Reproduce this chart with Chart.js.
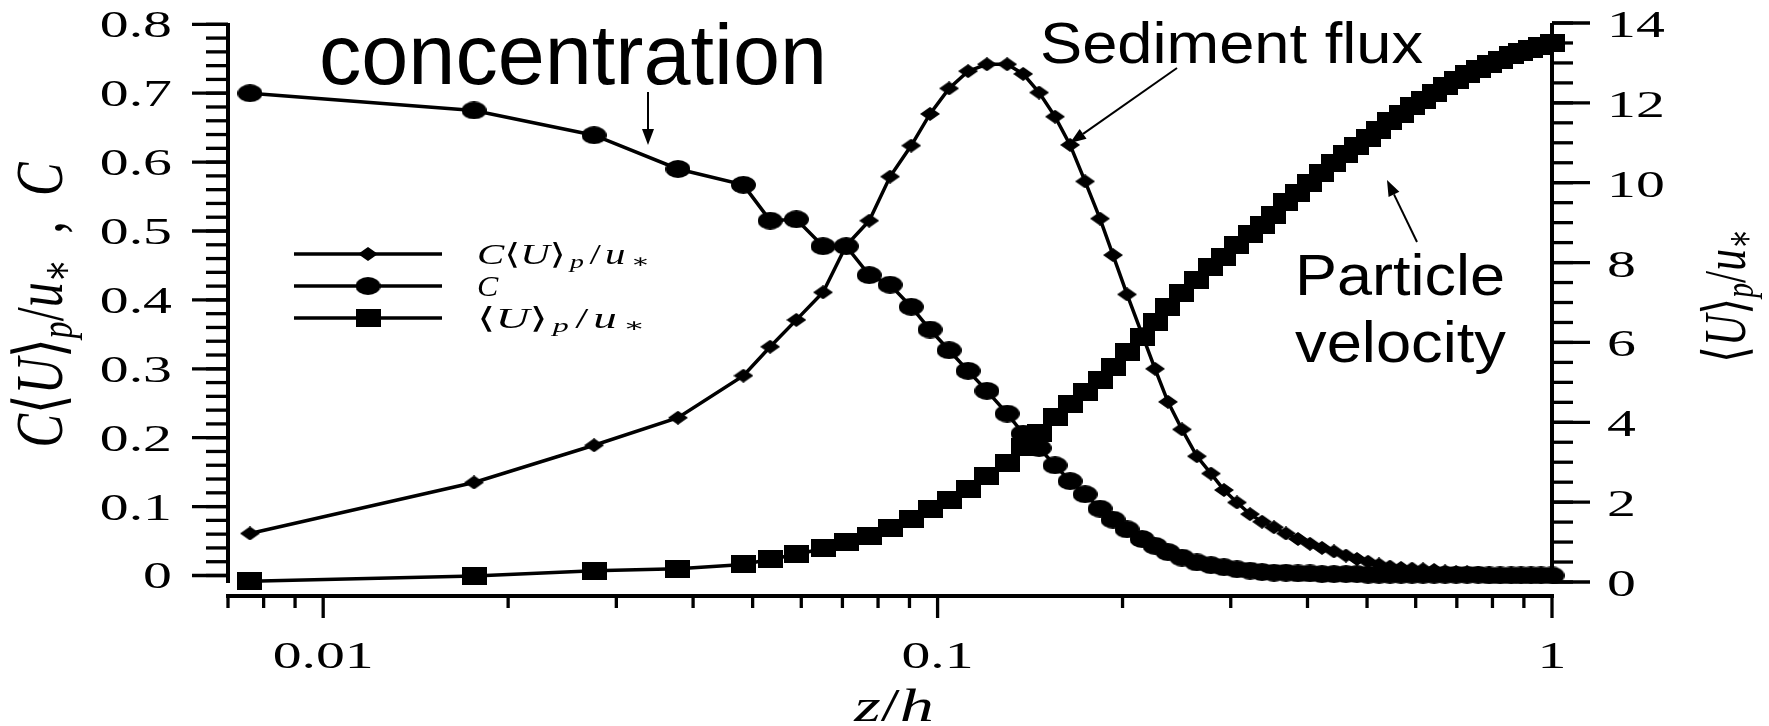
<!DOCTYPE html>
<html>
<head>
<meta charset="utf-8">
<title>Sediment flux profile</title>
<script src="https://cdn.jsdelivr.net/npm/chart.js@4.4.1/dist/chart.umd.min.js"></script>
<style>
  html, body { margin: 0; padding: 0; background: #fff; }
  canvas { display: block; }
</style>
</head>
<body>
<canvas id="profileChart" width="1769" height="726"></canvas>
<script>
// z/h positions of the samples (shared by all three profiles)
const zPos = [
  0.0076, 0.0176, 0.0276, 0.0378, 0.0483, 0.0534, 0.0589, 0.0651, 0.0710, 0.0774,
  0.0837, 0.0906, 0.0972, 0.1044, 0.1121, 0.1203, 0.1298, 0.1378, 0.1463, 0.1553,
  0.1643, 0.1738, 0.1838, 0.1930, 0.2034, 0.2152, 0.2259, 0.2371, 0.2499, 0.2643,
  0.2786, 0.2925, 0.3071, 0.3225, 0.3373, 0.3528, 0.3690, 0.3860, 0.4037, 0.4223,
  0.4417, 0.4620, 0.4815, 0.5018, 0.5229, 0.5449, 0.5679, 0.5918, 0.6168, 0.6428,
  0.6699, 0.6981, 0.7275, 0.7582, 0.7901, 0.8234, 0.8581, 0.8903, 0.9243, 0.9596, 1.0
];

// C<U>p/u* (sediment flux, left axis)
const fluxValues = [
  0.061, 0.135, 0.189, 0.229, 0.290, 0.332, 0.371, 0.411, 0.479, 0.515,
  0.579, 0.624, 0.670, 0.707, 0.732, 0.742, 0.742, 0.728, 0.701, 0.666,
  0.625, 0.572, 0.518, 0.465, 0.408, 0.350, 0.300, 0.252, 0.212, 0.173,
  0.148, 0.124, 0.106, 0.089, 0.078, 0.070, 0.061, 0.053, 0.046, 0.040,
  0.035, 0.029, 0.024, 0.020, 0.016, 0.013, 0.011, 0.010, 0.009, 0.008,
  0.006, 0.005, 0.0045, 0.004, 0.003, 0.0025, 0.002, 0.002, 0.0015, 0.001, 0.001
];

// C (concentration, left axis)
const concValues = [
  0.700, 0.675, 0.639, 0.590, 0.567, 0.515, 0.517, 0.478, 0.478, 0.436,
  0.422, 0.390, 0.357, 0.327, 0.297, 0.268, 0.235, 0.206, 0.185, 0.160,
  0.137, 0.118, 0.097, 0.081, 0.067, 0.053, 0.043, 0.034, 0.026, 0.019,
  0.015, 0.012, 0.009, 0.007, 0.005, 0.004, 0.004, 0.003, 0.003, 0.002,
  0.002, 0.002, 0.002, 0.001, 0.001, 0.001, 0.001, 0.001, 0.001, 0.001,
  0.001, 0.001, 0.001, 0.001, 0.000, 0.000, 0.000, 0.000, 0.000, 0.000, 0.000
];

// <U>p/u* (particle velocity, right axis)
const velValues = [
  0.02, 0.15, 0.28, 0.33, 0.44, 0.57, 0.69, 0.84, 1.01, 1.16,
  1.36, 1.57, 1.82, 2.05, 2.32, 2.65, 2.97, 3.37, 3.72, 4.14,
  4.45, 4.75, 5.06, 5.38, 5.76, 6.14, 6.51, 6.89, 7.24, 7.56,
  7.90, 8.15, 8.45, 8.72, 8.95, 9.20, 9.52, 9.75, 10.00, 10.25,
  10.50, 10.72, 10.93, 11.12, 11.32, 11.55, 11.72, 11.92, 12.08, 12.25,
  12.42, 12.58, 12.72, 12.85, 12.97, 13.08, 13.20, 13.28, 13.35, 13.42, 13.50
];

// Tick labels
const xMajorTicks = [0.01, 0.1, 1];
const xMinorTicks = [0.007, 0.008, 0.009, 0.02, 0.03, 0.04, 0.05, 0.06, 0.07, 0.08, 0.09,
                     0.2, 0.3, 0.4, 0.5, 0.6, 0.7, 0.8, 0.9];
const xTickLabels = ['0.01', '0.1', '1'];
const leftTicks = [0, 0.1, 0.2, 0.3, 0.4, 0.5, 0.6, 0.7, 0.8];
const leftTickLabels = ['0', '0.1', '0.2', '0.3', '0.4', '0.5', '0.6', '0.7', '0.8'];
const rightTicks = [0, 2, 4, 6, 8, 10, 12, 14];
const rightTickLabels = ['0', '2', '4', '6', '8', '10', '12', '14'];

const SERIF = '"Liberation Serif", "DejaVu Serif", serif';
const SANS = '"Liberation Sans", Arial, sans-serif';

// Math-like labels: pieces of text, italic / subscript flags
const fluxLabel = [
  { t: 'C', it: true }, { t: '⟨' }, { t: 'U', it: true }, { t: '⟩', gap: 3 },
  { t: 'p', it: true, sub: true, gap: 4 }, { t: '/', gap: 3 }, { t: 'u', it: true, gap: 4 }, { t: '∗', sub: true }
];
const concLabel = [{ t: 'C', it: true }];
const velLabel = [
  { t: '⟨' }, { t: 'U', it: true }, { t: '⟩', gap: 3 },
  { t: 'p', it: true, sub: true, gap: 4 }, { t: '/', gap: 3 }, { t: 'u', it: true, gap: 4 }, { t: '∗', sub: true }
];
const leftTitle = [
  { t: 'C', it: true }, { t: '⟨' }, { t: 'U', it: true }, { t: '⟩' },
  { t: 'p', it: true, sub: true }, { t: '/' }, { t: 'u', it: true }, { t: '∗', sub: true },
  { t: '  ,  ' }, { t: 'C', it: true }
];
const rightTitle = [
  { t: '⟨' }, { t: 'U', it: true }, { t: '⟩' },
  { t: 'p', it: true, sub: true }, { t: '/' }, { t: 'u', it: true }, { t: '∗', sub: true }
];
const xTitle = [{ t: 'z', it: true }, { t: '/' }, { t: 'h', it: true }];

// Marker images (the source figure is stretched sideways, so markers are too)
function makeMarker(w, h, kind) {
  const c = document.createElement('canvas');
  c.width = w;
  c.height = h;
  const g = c.getContext('2d');
  g.fillStyle = '#000';
  g.beginPath();
  if (kind === 'circle') {
    g.ellipse(w / 2, h / 2, w / 2, h / 2, 0, 0, Math.PI * 2);
  } else if (kind === 'diamond') {
    g.moveTo(w / 2, 0);
    g.lineTo(w, h / 2);
    g.lineTo(w / 2, h);
    g.lineTo(0, h / 2);
    g.closePath();
  } else {
    g.rect(0, 0, w, h);
  }
  g.fill();
  return c;
}

const diamondImg = makeMarker(20, 14, 'diamond');
const circleImg = makeMarker(25, 18, 'circle');
const squareImg = makeMarker(25, 18, 'square');

// Draw a row of text pieces, optionally rotated / stretched
function drawMath(ctx, segs, size, x, y, o = {}) {
  ctx.save();
  ctx.translate(x, y);
  if (o.rotate) ctx.rotate(-Math.PI / 2);
  let w = 0;
  const parts = segs.map(s => {
    const fs = s.sub ? size * 0.68 : size;
    const font = (s.it ? 'italic ' : '') + fs + 'px ' + (s.sans ? SANS : SERIF);
    ctx.font = font;
    const p = { t: s.t, font: font, x: w, dy: s.sub ? size * 0.14 : 0 };
    w += ctx.measureText(s.t).width + (s.gap || 0);
    return p;
  });
  const sx = o.width ? o.width / w : (o.sx || 1);
  ctx.scale(sx, o.sy || 1);
  const x0 = o.align === 'center' ? -w / 2 : (o.align === 'right' ? -w : 0);
  ctx.textAlign = 'left';
  ctx.textBaseline = 'alphabetic';
  ctx.fillStyle = '#000';
  parts.forEach(p => {
    ctx.font = p.font;
    ctx.fillText(p.t, x0 + p.x, p.dy);
  });
  ctx.restore();
}

function strokeLine(ctx, x1, y1, x2, y2) {
  ctx.beginPath();
  ctx.moveTo(x1, y1);
  ctx.lineTo(x2, y2);
  ctx.stroke();
}

function drawArrow(ctx, x1, y1, x2, y2) {
  const ang = Math.atan2(y2 - y1, x2 - x1);
  const len = 16, half = 6;
  const bx = x2 - Math.cos(ang) * len, by = y2 - Math.sin(ang) * len;
  ctx.lineWidth = 2;
  strokeLine(ctx, x1, y1, bx, by);
  ctx.beginPath();
  ctx.moveTo(x2, y2);
  ctx.lineTo(bx + Math.sin(ang) * half, by - Math.cos(ang) * half);
  ctx.lineTo(bx - Math.sin(ang) * half, by + Math.cos(ang) * half);
  ctx.closePath();
  ctx.fill();
}

// Axes, ticks, titles, legend and callouts in the style of the paper figure
const paperAxes = {
  id: 'paperAxes',
  afterDatasetsDraw(chart) {
    const { ctx, chartArea: a, scales } = chart;
    const sx = scales.x, yl = scales.yL, yr = scales.yR;
    const xAxisY = a.bottom + 13;

    ctx.save();
    ctx.strokeStyle = '#000';
    ctx.fillStyle = '#000';
    ctx.lineCap = 'butt';

    // axis lines
    ctx.lineWidth = 4;
    strokeLine(ctx, a.left, a.top, a.left, a.bottom);
    strokeLine(ctx, a.right, a.top, a.right, a.bottom);
    strokeLine(ctx, a.left - 2, xAxisY, a.right + 2, xAxisY);

    // left ticks
    ctx.lineWidth = 3.3;
    for (let v = 0; v <= 0.8001; v += 0.02) {
      const y = yl.getPixelForValue(v);
      strokeLine(ctx, a.left - 22, y, a.left, y);
    }
    leftTicks.forEach((v, i) => {
      const y = yl.getPixelForValue(v);
      strokeLine(ctx, a.left - 36, y, a.left, y);
      drawMath(ctx, [{ t: leftTickLabels[i] }], 38, a.left - 56, y + 13, { sx: 1.52, align: 'right' });
    });

    // right ticks
    for (let v = 0; v <= 14.001; v += 0.5) {
      const y = yr.getPixelForValue(v);
      strokeLine(ctx, a.right, y, a.right + 21, y);
    }
    rightTicks.forEach((v, i) => {
      const y = yr.getPixelForValue(v);
      strokeLine(ctx, a.right, y, a.right + 38, y);
      drawMath(ctx, [{ t: rightTickLabels[i] }], 38, a.right + 55, y + 14, { sx: 1.52 });
    });

    // bottom ticks
    xMinorTicks.forEach(v => {
      const x = sx.getPixelForValue(v);
      strokeLine(ctx, x, xAxisY, x, xAxisY + 12);
    });
    xMajorTicks.forEach((v, i) => {
      const x = sx.getPixelForValue(v);
      strokeLine(ctx, x, xAxisY, x, xAxisY + 22);
      drawMath(ctx, [{ t: xTickLabels[i] }], 38, x, xAxisY + 72, { sx: 1.52, align: 'center' });
    });

    // axis titles
    drawMath(ctx, xTitle, 47, (a.left + a.right) / 2 + 4, 721, { sx: 1.45, align: 'center' });
    drawMath(ctx, leftTitle, 47, 62, 305, { rotate: true, sy: 1.45, width: 285, align: 'center' });
    drawMath(ctx, rightTitle, 44, 1745, 296, { rotate: true, sy: 1.35, width: 134, align: 'center' });

    // legend
    const rows = [
      { img: diamondImg, label: fluxLabel, width: 173 },
      { img: circleImg, label: concLabel, width: 0 },
      { img: squareImg, label: velLabel, width: 168 }
    ];
    rows.forEach((r, i) => {
      const y = 254 + 32 * i;
      ctx.lineWidth = 3.5;
      strokeLine(ctx, 294, y, 442, y);
      ctx.drawImage(r.img, 368 - r.img.width / 2, y - r.img.height / 2);
      drawMath(ctx, r.label, 29, 477, y + 10, r.width ? { width: r.width } : { sx: 1.1 });
    });

    // callouts
    drawMath(ctx, [{ t: 'concentration', sans: true }], 85, 319, 84, { width: 508 });
    drawMath(ctx, [{ t: 'Sediment flux', sans: true }], 58, 1040, 63, { width: 383 });
    drawMath(ctx, [{ t: 'Particle', sans: true }], 58, 1295, 295, { width: 210 });
    drawMath(ctx, [{ t: 'velocity', sans: true }], 58, 1295, 362, { width: 211 });
    drawArrow(ctx, 648, 92, 648, 145);
    drawArrow(ctx, 1177, 68, 1070, 143);
    drawArrow(ctx, 1417, 242, 1387, 180);

    ctx.restore();
  }
};

function seriesDataset(label, values, img, axisId) {
  return {
    label: label,
    data: zPos.map((z, i) => ({ x: z, y: values[i] })),
    yAxisID: axisId,
    borderColor: '#000',
    backgroundColor: '#000',
    borderWidth: 3.5,
    tension: 0,
    fill: false,
    clip: false,
    pointStyle: img,
    pointRadius: 6
  };
}

// Chart setup
document.addEventListener('DOMContentLoaded', function() {
  const ctx = document.getElementById('profileChart').getContext('2d');

  new Chart(ctx, {
    type: 'line',
    data: {
      datasets: [
        seriesDataset('C<U>p/u*', fluxValues, diamondImg, 'yL'),
        seriesDataset('C', concValues, circleImg, 'yL'),
        seriesDataset('<U>p/u*', velValues, squareImg, 'yR')
      ]
    },
    options: {
      responsive: false,
      animation: false,
      devicePixelRatio: 1,
      events: [],
      layout: { padding: { left: 228, right: 217, top: 23, bottom: 143 } },
      plugins: {
        legend: { display: false },
        tooltip: { enabled: false }
      },
      scales: {
        x: { type: 'logarithmic', min: 0.007, max: 1, display: false },
        yL: { type: 'linear', position: 'left', min: -0.0109, max: 0.8019, display: false },
        yR: { type: 'linear', position: 'right', min: -0.025, max: 14.0, display: false }
      }
    },
    plugins: [paperAxes]
  });
});
</script>
</body>
</html>
